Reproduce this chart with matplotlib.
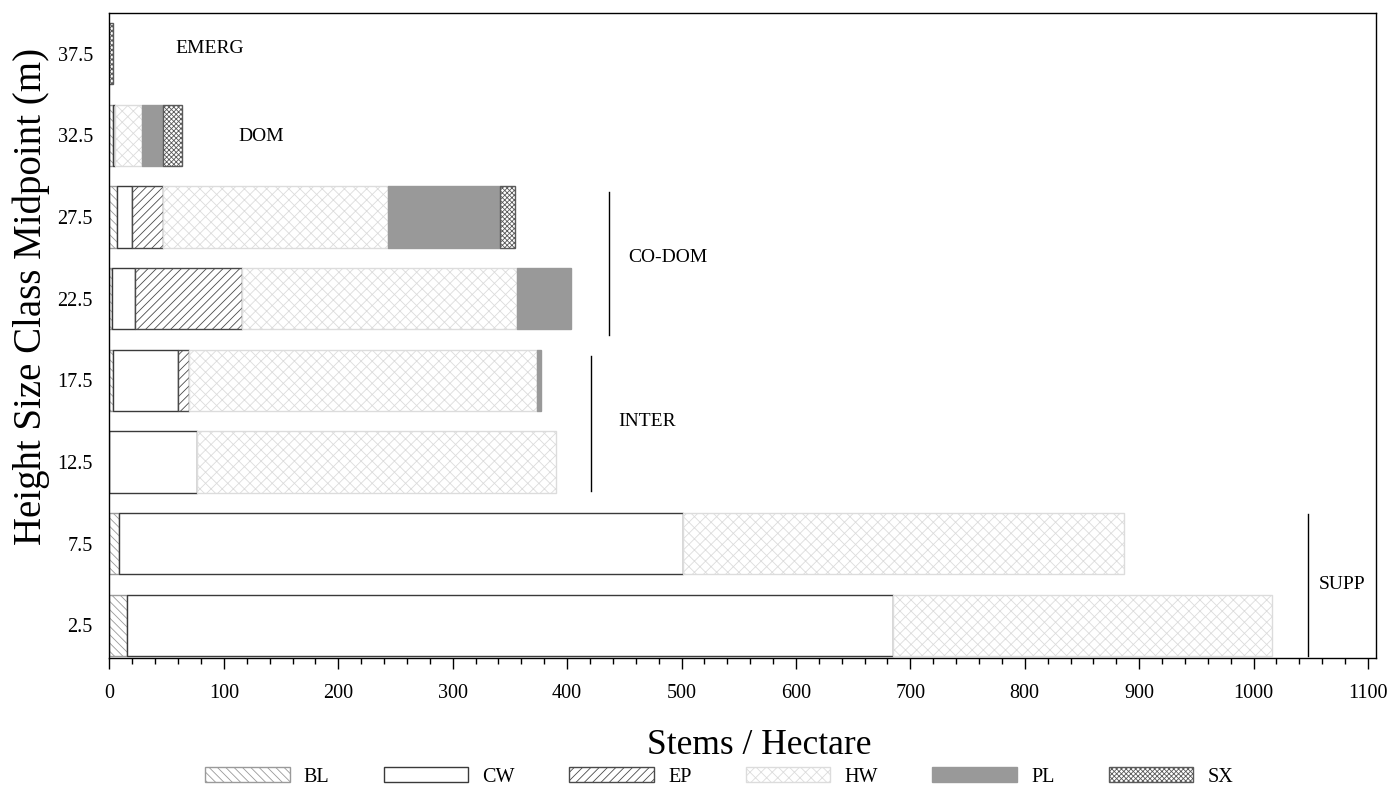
import matplotlib
matplotlib.use("Agg")
import matplotlib.pyplot as plt
import numpy as np

plt.rcParams['font.family'] = ['Liberation Serif', 'DejaVu Serif']
plt.rcParams['hatch.linewidth'] = 0.6

# height size class midpoints (m)
heights = [2.5, 7.5, 12.5, 17.5, 22.5, 27.5, 32.5, 37.5]
height_labels = ['2.5', '7.5', '12.5', '17.5', '22.5', '27.5', '32.5', '37.5']

# stems / hectare by species, one value per height class
BL = [15.6, 8.6, 0, 2.8, 2.4, 6.8, 3.5, 0]
CW = [669.3, 492.3, 76.7, 57.3, 20.1, 13.1, 1.5, 0]
EP = [0, 0, 0, 9.6, 93.5, 26.8, 0, 0]
HW = [331.5, 386.1, 313.5, 303.6, 239.8, 196.7, 23.7, 0]
PL = [0, 0, 0, 3.5, 47.5, 97.8, 17.8, 0]
SX = [0, 0, 0, 0, 0, 12.9, 16.9, 3.0]

species = ['BL', 'CW', 'EP', 'HW', 'PL', 'SX']
series = [BL, CW, EP, HW, PL, SX]
styles = {
    'BL': dict(facecolor='white', edgecolor='#9a9a9a', hatch='\\\\\\\\'),
    'CW': dict(facecolor='white', edgecolor='#3a3a3a', hatch=None),
    'EP': dict(facecolor='white', edgecolor='#4a4a4a', hatch='////'),
    'HW': dict(facecolor='white', edgecolor='#dcdcdc', hatch='xxx'),
    'PL': dict(facecolor='#999999', edgecolor='#999999', hatch=None),
    'SX': dict(facecolor='white', edgecolor='#5a5a5a', hatch='xxxxxxx'),
}

# canopy class annotations: label, text x, text y, line x, line y0, line y1
classes = ['EMERG', 'DOM', 'CO-DOM', 'INTER', 'SUPP']
class_text_x = [88, 133, 488, 470, 1077]
class_text_y = [37.8, 32.4, 25.0, 15.0, 5.0]
class_line_x = [None, None, 437, 420.7, 1047.5]
class_line_y = [None, None, (20.3, 29.0), (10.7, 19.0), (0.65, 9.3)]

fig = plt.figure(figsize=(13.91, 7.92), dpi=100)
ax = fig.add_axes([0.0787, 0.1692, 0.9105, 0.8148])

left = np.zeros(len(heights))
for name, vals in zip(species, series):
    vals = np.array(vals, dtype=float)
    keep = vals > 0
    ax.barh(np.array(heights)[keep], vals[keep], height=3.75, left=left[keep],
            linewidth=1.0, label=name, **styles[name])
    left += vals

for lab, tx, ty, lx, ly in zip(classes, class_text_x, class_text_y, class_line_x, class_line_y):
    ax.text(tx, ty, lab, ha='center', va='center', fontsize=14)
    if lx is not None:
        ax.plot([lx, lx], ly, color='black', linewidth=1.0)

ax.set_xlim(0, 1107)
ax.set_ylim(0.5, 40)
ax.set_xticks(np.arange(0, 1101, 100))
ax.set_xticks(np.arange(0, 1101, 20), minor=True)
ax.set_yticks(heights)
ax.set_yticklabels(height_labels)
ax.tick_params(axis='x', which='major', length=8, width=1, pad=11, labelsize=14.5)
ax.tick_params(axis='x', which='minor', length=4, width=1)
ax.tick_params(axis='y', length=0, pad=12, labelsize=14.5)
for sp in ax.spines.values():
    sp.set_linewidth(1.0)

ax.set_xlabel('Stems / Hectare', fontsize=25.5)
ax.xaxis.set_label_coords(0.513, -0.11)
ax.set_ylabel('Height Size Class Midpoint (m)', fontsize=28)
ax.yaxis.set_label_coords(-0.047, 0.56)

fig.legend(loc='lower center', bbox_to_anchor=(0.517, -0.016), ncol=6, frameon=False,
           fontsize=14.5, handlelength=4.2, handleheight=0.75, columnspacing=2.7,
           handletextpad=0.7)

fig.savefig('out.png', dpi=100)
